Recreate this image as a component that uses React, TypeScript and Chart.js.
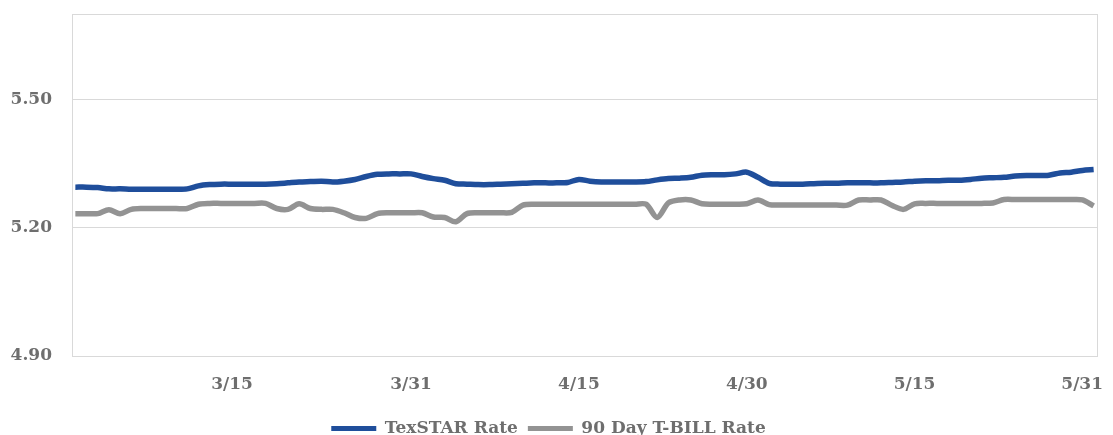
import React, { useEffect, useRef } from "react";
import { Chart, registerables } from "chart.js";

Chart.register(...registerables);

// Daily observations 3/1 .. 5/31 (92 days)
const monthStarts = [
  { month: 3, days: 31 },
  { month: 4, days: 30 },
  { month: 5, days: 31 },
];
const dates: string[] = monthStarts.flatMap((m) =>
  Array.from({ length: m.days }, (_, d) => `${m.month}/${d + 1}`)
);

const texstarRate = [
  5.295, 5.295, 5.294, 5.291, 5.291, 5.29, 5.29, 5.29, 5.29, 5.29,
  5.291, 5.298, 5.301, 5.302, 5.302, 5.302, 5.302, 5.302, 5.303, 5.305,
  5.307, 5.308, 5.309, 5.307, 5.309, 5.313, 5.32, 5.325, 5.326, 5.326,
  5.326, 5.32, 5.315, 5.311, 5.303, 5.302, 5.301, 5.301, 5.302, 5.303,
  5.304, 5.305, 5.305, 5.305, 5.306, 5.313, 5.309, 5.307, 5.307, 5.307,
  5.307, 5.308, 5.312, 5.315, 5.316, 5.318, 5.323, 5.324, 5.324, 5.326,
  5.33, 5.318, 5.304, 5.302, 5.302, 5.302, 5.303, 5.304, 5.304, 5.305,
  5.305, 5.305, 5.305, 5.306, 5.307, 5.309, 5.31, 5.31, 5.311, 5.311,
  5.313, 5.316, 5.317, 5.318, 5.321, 5.322, 5.322, 5.323, 5.328, 5.33,
  5.334, 5.336,
];

const tbillRate = [
  5.233, 5.233, 5.233, 5.242, 5.233, 5.243, 5.245, 5.245, 5.245, 5.245,
  5.245, 5.255, 5.257, 5.257, 5.257, 5.257, 5.257, 5.257, 5.245, 5.243,
  5.256, 5.245, 5.243, 5.243, 5.235, 5.224, 5.222, 5.233, 5.235, 5.235,
  5.235, 5.235, 5.225, 5.224, 5.214, 5.233, 5.235, 5.235, 5.235, 5.236,
  5.253, 5.255, 5.255, 5.255, 5.255, 5.255, 5.255, 5.255, 5.255, 5.255,
  5.255, 5.255, 5.224, 5.258, 5.265, 5.265, 5.256, 5.255, 5.255, 5.255,
  5.256, 5.265, 5.254, 5.253, 5.253, 5.253, 5.253, 5.253, 5.253, 5.253,
  5.265, 5.265, 5.265, 5.252, 5.243, 5.256, 5.257, 5.257, 5.257, 5.257,
  5.257, 5.257, 5.258, 5.266, 5.266, 5.266, 5.266, 5.266, 5.266, 5.266,
  5.265, 5.251,
];

const xTickLabels = ["3/15", "3/31", "4/15", "4/30", "5/15", "5/31"];
const yTicks = [4.9, 5.2, 5.5];
const yMin = 4.9;
const yMax = 5.7;

const seriesNames = ["TexSTAR Rate", "90 Day T-BILL Rate"];

const FONT = "'DejaVu Serif', 'Liberation Serif', serif";
const TEXT_COLOR = "#6e6e6e";
const GRID_COLOR = "#d9d9d9";
const FONT_SIZE = 17;

const frameAndLabels = {
  id: "frameAndLabels",
  beforeDatasetsDraw(chart: any) {
    const { ctx, chartArea } = chart;
    ctx.save();
    ctx.strokeStyle = GRID_COLOR;
    ctx.lineWidth = 1;
    ctx.strokeRect(
      Math.round(chartArea.left) + 0.5,
      Math.round(chartArea.top) + 0.5,
      Math.round(chartArea.right - chartArea.left),
      Math.round(chartArea.bottom - chartArea.top)
    );
    ctx.restore();
  },
  afterDraw(chart: any) {
    // x tick labels placed through the x scale; kept inside the canvas
    const { ctx, chartArea } = chart;
    const xs = chart.scales.x;
    ctx.save();
    ctx.font = `bold ${FONT_SIZE}px ${FONT}`;
    ctx.fillStyle = TEXT_COLOR;
    ctx.textAlign = "center";
    ctx.textBaseline = "middle";
    const maxRight = chart.width - 10;
    xTickLabels.forEach((label) => {
      const idx = dates.indexOf(label);
      let x = xs.getPixelForValue(idx);
      const w = ctx.measureText(label).width;
      if (x + w / 2 > maxRight) x = maxRight - w / 2;
      ctx.fillText(label, x, chartArea.bottom + 29);
    });
    ctx.restore();
  },
};

export default function App() {
  const canvasRef = useRef<HTMLCanvasElement | null>(null);

  useEffect(() => {
    document.body.style.margin = "0";
    const canvas = canvasRef.current;
    if (!canvas) return;

    const chart = new Chart(canvas, {
      type: "line",
      data: {
        datasets: [
          {
            label: seriesNames[0],
            data: texstarRate.map((v, i) => ({ x: i, y: v })),
            borderColor: "#1f4e9b",
            backgroundColor: "#1f4e9b",
            borderWidth: 5.5,
            pointRadius: 0,
            tension: 0.3,
          },
          {
            label: seriesNames[1],
            data: tbillRate.map((v, i) => ({ x: i, y: v })),
            borderColor: "#939393",
            backgroundColor: "#939393",
            borderWidth: 5.5,
            pointRadius: 0,
            tension: 0.3,
          },
        ],
      },
      options: {
        responsive: false,
        animation: false,
        layout: { padding: { top: 14, right: 16, left: 0, bottom: -12 } },
        plugins: {
          tooltip: { enabled: false },
          legend: {
            position: "bottom",
            labels: {
              color: TEXT_COLOR,
              font: { family: FONT, size: FONT_SIZE, weight: "bold" },
              boxWidth: 45,
              boxHeight: 5,
              padding: 10,
              generateLabels: (c: any) =>
                Chart.defaults.plugins.legend.labels
                  .generateLabels(c)
                  .map((l: any) => ({ ...l, lineWidth: 0 })),
            },
          },
        },
        scales: {
          x: {
            type: "linear",
            min: -0.3,
            max: dates.length - 1 + 0.3,
            grid: { display: false, drawTicks: false },
            border: { display: false },
            ticks: { display: false },
            afterFit: (scale: any) => {
              scale.height = 54;
              scale.paddingLeft = 0;
              scale.paddingRight = 0;
            },
          },
          y: {
            min: yMin,
            max: yMax,
            grid: { color: GRID_COLOR, drawTicks: false },
            border: { display: true, color: GRID_COLOR },
            afterBuildTicks: (scale: any) => {
              scale.ticks = yTicks.map((v) => ({ value: v }));
            },
            afterFit: (scale: any) => {
              scale.width = 72;
              scale.paddingTop = 0;
              scale.paddingBottom = 0;
            },
            ticks: {
              padding: 20,
              color: TEXT_COLOR,
              font: { family: FONT, size: FONT_SIZE, weight: "bold" },
              callback: (v: any) => Number(v).toFixed(2),
            },
          },
        },
      },
      plugins: [frameAndLabels],
    } as any);

    return () => chart.destroy();
  }, []);

  return (
    <div style={{ width: 1113, height: 435, background: "#fff" }}>
      <canvas ref={canvasRef} width={1113} height={435} />
    </div>
  );
}
